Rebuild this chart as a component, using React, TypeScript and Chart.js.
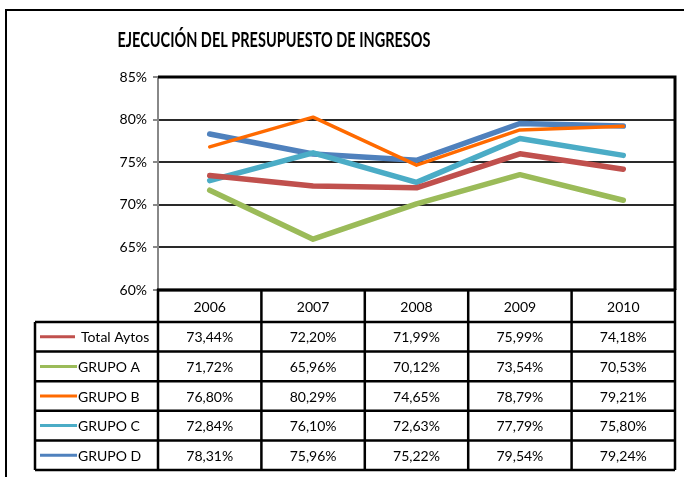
import React, { useEffect, useRef } from "react";
import { Chart, registerables } from "chart.js";

Chart.register(...registerables);

const TITLE = "EJECUCIÓN DEL PRESUPUESTO DE INGRESOS";
const YEARS = ["2006", "2007", "2008", "2009", "2010"];
const SERIES_NAMES = ["Total Aytos", "GRUPO A", "GRUPO B", "GRUPO C", "GRUPO D"];
const TOTAL_AYTOS = [0.7344, 0.722, 0.7199, 0.7599, 0.7418];
const GRUPO_A = [0.7172, 0.6596, 0.7012, 0.7354, 0.7053];
const GRUPO_B = [0.768, 0.8029, 0.7465, 0.7879, 0.7921];
const GRUPO_C = [0.7284, 0.761, 0.7263, 0.7779, 0.758];
const GRUPO_D = [0.7831, 0.7596, 0.7522, 0.7954, 0.7924];
const COLORS = ["#C0504D", "#9BBB59", "#FF6A00", "#4BACC6", "#4F81BD"];
const WIDTHS = [5.5, 5.5, 3.5, 5.5, 5.5];
const Y_MIN = 0.6;
const Y_MAX = 0.85;
const Y_STEP = 0.05;

const ALL = [TOTAL_AYTOS, GRUPO_A, GRUPO_B, GRUPO_C, GRUPO_D];

const fmtPct = (v: number) => (v * 100).toFixed(2).replace(".", ",") + "%";

const FONT = "Lato, 'Open Sans', sans-serif";

const decorPlugin = {
  id: "decor",
  beforeDraw(chart: any) {
    const ctx = chart.ctx;
    ctx.save();
    ctx.fillStyle = "#fff";
    ctx.fillRect(0, 0, chart.width, chart.height);
    ctx.strokeStyle = "#000";
    ctx.lineWidth = 2;
    ctx.beginPath();
    ctx.moveTo(6, chart.height);
    ctx.lineTo(6, 10);
    ctx.lineTo(chart.width, 10);
    ctx.stroke();
    ctx.fillStyle = "#000";
    ctx.font = `bold 20px ${FONT}`;
    ctx.textAlign = "center";
    ctx.textBaseline = "middle";
    const w = ctx.measureText(TITLE).width;
    const targetW = 313;
    const sx = Math.min(1, targetW / w);
    ctx.translate(274, 41);
    ctx.scale(sx, 1);
    ctx.fillText(TITLE, 0, 0);
    ctx.restore();
  },
  beforeDatasetsDraw(chart: any) {
    const ctx = chart.ctx;
    const a = chart.chartArea;
    ctx.save();
    ctx.strokeStyle = "#000";
    ctx.lineWidth = 3;
    ctx.beginPath();
    ctx.moveTo(a.left, a.top);
    ctx.lineTo(a.right, a.top);
    ctx.lineTo(a.right, a.bottom);
    ctx.stroke();
    ctx.restore();
  },
  afterDraw(chart: any) {
    const ctx = chart.ctx;
    const a = chart.chartArea;
    const x = chart.scales.x;
    const n = YEARS.length;
    const colW = (a.right - a.left) / n;
    const headerTop = a.bottom;
    const headerBottom = headerTop + 32;
    const rowH = 29.6;
    const legendLeft = 35;
    const tableBottom = headerBottom + rowH * SERIES_NAMES.length;
    ctx.save();
    ctx.strokeStyle = "#000";
    ctx.lineWidth = 2.5;
    ctx.beginPath();
    ctx.rect(a.left, headerTop, a.right - a.left, headerBottom - headerTop);
    for (let i = 1; i < n; i++) {
      const xx = a.left + colW * i;
      ctx.moveTo(xx, headerTop);
      ctx.lineTo(xx, tableBottom);
    }
    for (let r = 0; r <= SERIES_NAMES.length; r++) {
      const yy = headerBottom + rowH * r;
      ctx.moveTo(legendLeft, yy);
      ctx.lineTo(a.right, yy);
    }
    ctx.moveTo(legendLeft, headerBottom);
    ctx.lineTo(legendLeft, tableBottom);
    ctx.moveTo(a.left, headerBottom);
    ctx.lineTo(a.left, tableBottom);
    ctx.moveTo(a.right, headerTop);
    ctx.lineTo(a.right, tableBottom);
    ctx.stroke();
    ctx.lineWidth = 3;
    ctx.beginPath();
    ctx.moveTo(a.left - 1, headerTop);
    ctx.lineTo(a.right + 1, headerTop);
    ctx.stroke();

    ctx.fillStyle = "#000";
    ctx.font = `14px ${FONT}`;
    ctx.textAlign = "center";
    ctx.textBaseline = "middle";
    YEARS.forEach((yr, i) => {
      const cx = x.getPixelForValue(i);
      ctx.fillText(yr, cx, (headerTop + headerBottom) / 2 + 1);
    });
    SERIES_NAMES.forEach((name, r) => {
      const cy = headerBottom + rowH * r + rowH / 2 + 1;
      ctx.strokeStyle = COLORS[r];
      ctx.lineWidth = 3;
      ctx.beginPath();
      ctx.moveTo(40, cy - 1);
      ctx.lineTo(r === 0 ? 75 : 77, cy - 1);
      ctx.stroke();
      ctx.textAlign = "left";
      ctx.fillText(name, r === 0 ? 81 : 78, cy);
      ctx.textAlign = "center";
      ALL[r].forEach((v, i) => {
        ctx.fillText(fmtPct(v), x.getPixelForValue(i), cy);
      });
    });
    ctx.restore();
  },
};

export default function App() {
  const ref = useRef<HTMLCanvasElement>(null);
  useEffect(() => {
    if (!ref.current) return;
    const chart = new Chart(ref.current, {
      type: "line",
      data: {
        labels: YEARS,
        datasets: SERIES_NAMES.map((name, i) => ({
          label: name,
          data: ALL[i],
          borderColor: COLORS[i],
          backgroundColor: COLORS[i],
          borderWidth: WIDTHS[i],
          pointRadius: 0,
          tension: 0,
          fill: false,
          borderCapStyle: "round" as const,
          borderJoinStyle: "round" as const,
        })),
      },
      options: {
        responsive: false,
        animation: false,
        devicePixelRatio: 1,
        layout: { padding: { left: 0, top: 77, right: 9, bottom: 187 } },
        plugins: {
          legend: { display: false },
          title: { display: false },
          tooltip: { enabled: false },
        },
        scales: {
          x: {
            type: "category",
            offset: true,
            display: false,
            grid: { display: false },
          },
          y: {
            min: Y_MIN,
            max: Y_MAX,
            afterFit(scale: any) {
              scale.width = 158;
            },
            border: { display: true, color: "#888", width: 2 },
            grid: {
              color: (c: any) => (c.tick && Math.abs(c.tick.value - Y_MIN) < 1e-6 ? "rgba(0,0,0,0)" : "#2a2a2a"),
              lineWidth: 2,
              tickColor: "#888",
              tickLength: 5,
              drawTicks: true,
            },
            ticks: {
              stepSize: Y_STEP,
              padding: 6,
              color: "#000",
              font: { family: FONT, size: 14 },
              callback: (v: any) => Math.round(Number(v) * 100) + "%",
            },
          },
        },
      },
      plugins: [decorPlugin],
    });
    return () => chart.destroy();
  }, []);
  return (
    <div style={{ position: "absolute", left: 0, top: 0, width: 684, height: 477 }}>
      <canvas ref={ref} width={684} height={477} style={{ display: "block", width: 684, height: 477 }} />
    </div>
  );
}
